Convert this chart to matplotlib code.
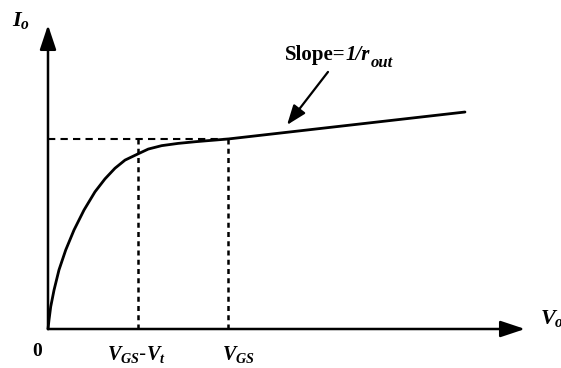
import matplotlib.pyplot as plt

plt.rcParams['mathtext.fontset'] = 'custom'
plt.rcParams['mathtext.rm'] = 'Liberation Serif:bold'
plt.rcParams['mathtext.it'] = 'Liberation Serif:italic:bold'
plt.rcParams['mathtext.bf'] = 'Liberation Serif:bold'

# output characteristic (V in units of V_GS-V_t, I in units of I at V_GS)
vo = [0.0, 0.011, 0.030, 0.067, 0.122, 0.197, 0.289, 0.400, 0.522, 0.633,
      0.744, 0.856, 0.997, 1.114, 1.263, 1.448, 1.644, 1.744, 2.0, 4.633]
io = [0.0, 0.047, 0.117, 0.205, 0.311, 0.416, 0.521, 0.626, 0.722, 0.790,
      0.846, 0.889, 0.921, 0.947, 0.965, 0.977, 0.986, 0.990, 1.0, 1.142]

v_sat = 1.0   # V_GS - V_t
v_gs = 2.0
i_sat = 1.0

fig = plt.figure(figsize=(5.61, 3.68), dpi=100)
ax = fig.add_axes([0, 0, 1, 1])
ax.set_xlim(-48 / 90, 513 / 90)
ax.set_ylim(-39 / 190, 329 / 190)
ax.axis('off')

head = dict(arrowstyle='-|>,head_length=1.5,head_width=0.5', color='black',
            lw=1.8, shrinkA=0, shrinkB=0)
ax.annotate('', xy=(0, 1.6), xytext=(0, 0), arrowprops=head)
ax.annotate('', xy=(5.3, 0), xytext=(0, 0), arrowprops=head)

# dashed guides
ax.plot([0, v_gs], [i_sat, i_sat], color='black', lw=1.5, ls=(0, (3.5, 2.5)))
ax.plot([v_sat, v_sat], [0, i_sat], color='black', lw=1.8, ls=(0, (2.0, 1.7)))
ax.plot([v_gs, v_gs], [0, i_sat], color='black', lw=1.8, ls=(0, (2.0, 1.7)))

ax.plot(vo, io, color='black', lw=2.0, solid_capstyle='round',
        solid_joinstyle='round')

ax.annotate('', xy=(2.656, 1.074), xytext=(3.111, 1.353),
            arrowprops=dict(arrowstyle='-|>,head_length=1.2,head_width=0.45',
                            color='black', lw=1.6, shrinkA=0, shrinkB=0))

serif = dict(family='Liberation Serif', fontweight='bold')
t1 = ax.text(2.633, 1.416, 'Slope=', fontsize=15, ha='left',
             va='baseline', **serif)
t2 = ax.annotate('1/r', xy=(1, 0), xycoords=t1, fontsize=15,
                 fontstyle='italic', ha='left', va='bottom', **serif)
ax.annotate('out', xy=(1, 0), xycoords=t2, xytext=(0.5, -4),
            textcoords='offset points', fontsize=12, fontstyle='italic',
            ha='left', va='bottom', **serif)

ax.text(-0.4, 1.679, r'$I_o$', fontsize=16, ha='left', va='top')
ax.text(5.467, 0.11, r'$V_o$', fontsize=16, ha='left', va='top')
ax.text(-0.122, -0.116, '0', fontsize=14, ha='center', va='center', **serif)
ax.text(0.656, -0.079, r'$V_{GS}$-$V_t$', fontsize=14.5, ha='left', va='top')
ax.text(1.933, -0.079, r'$V_{GS}$', fontsize=14.5, ha='left', va='top')

plt.savefig('out.png', dpi=100)
